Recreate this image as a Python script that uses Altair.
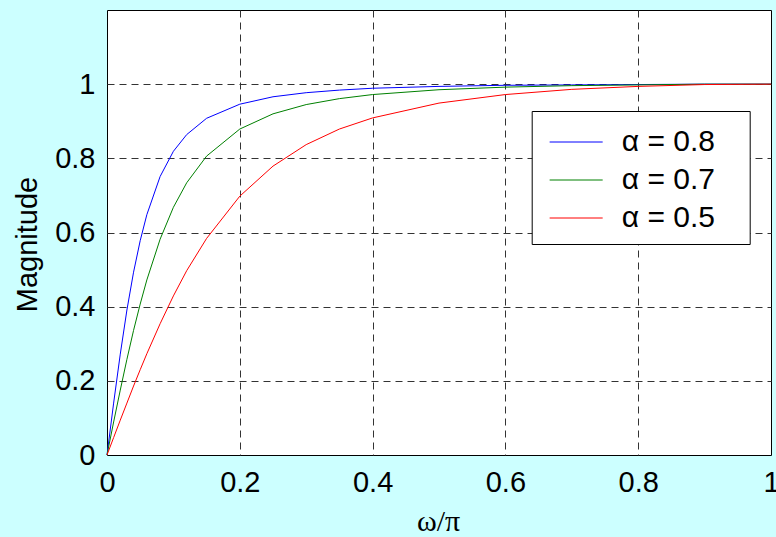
import altair as alt
import pandas as pd

# normalized frequency (omega/pi)
omega = [0, 0.01, 0.02, 0.03, 0.04, 0.05, 0.06, 0.08, 0.10, 0.12, 0.15, 0.20,
         0.25, 0.30, 0.35, 0.40, 0.50, 0.60, 0.70, 0.80, 0.90, 1.00]
# magnitude
mag_08 = [0, 0.140, 0.272, 0.391, 0.493, 0.578, 0.648, 0.751, 0.819, 0.864, 0.908, 0.946,
          0.966, 0.977, 0.984, 0.989, 0.994, 0.997, 0.998, 0.999, 1.000, 1.000]
mag_07 = [0, 0.089, 0.175, 0.258, 0.336, 0.407, 0.472, 0.582, 0.668, 0.734, 0.806, 0.879,
          0.920, 0.945, 0.961, 0.972, 0.985, 0.992, 0.996, 0.998, 1.000, 1.000]
mag_05 = [0, 0.047, 0.094, 0.140, 0.186, 0.230, 0.273, 0.354, 0.429, 0.497, 0.584, 0.698,
          0.779, 0.837, 0.879, 0.909, 0.949, 0.972, 0.986, 0.994, 0.999, 1.000]

series_labels = ["\u03b1 = 0.8", "\u03b1 = 0.7", "\u03b1 = 0.5"]
series_colors = ["#0000FF", "#008000", "#FF0000"]

x_ticks = [0, 0.2, 0.4, 0.6, 0.8, 1.0]
y_ticks = [0, 0.2, 0.4, 0.6, 0.8, 1.0]

rows = []
for label, vals in zip(series_labels, [mag_08, mag_07, mag_05]):
    for w, m in zip(omega, vals):
        rows.append({"w": w, "m": m, "series": label})
df = pd.DataFrame(rows)

grid_x_opacity = {"condition": {"test": "datum.value <= 0 || datum.value >= 1", "value": 0}, "value": 1}
grid_y_opacity = {"condition": {"test": "datum.value <= 0", "value": 0}, "value": 1}

chart = alt.Chart(df).mark_line(strokeWidth=1).encode(
    x=alt.X("w:Q",
            scale=alt.Scale(domain=[0, 1], nice=False, zero=False),
            axis=alt.Axis(values=x_ticks, format=".1~f", title="\u03c9/\u03c0",
                          labelPadding=13, labelFlush=False, labelOverlap=False,
                          gridOpacity=grid_x_opacity,
                          titleFont="Liberation Serif", titleFontSize=30,
                          titleFontWeight="normal", titleX=331, titleY=75,
                          titleBaseline="alphabetic", titleAlign="center")),
    y=alt.Y("m:Q",
            scale=alt.Scale(domain=[0, 1.2], nice=False, zero=False),
            axis=alt.Axis(values=y_ticks, format=".1~f", title="Magnitude",
                          labelPadding=12, labelFlush=False, labelOverlap=False,
                          gridOpacity=grid_y_opacity,
                          titleFont="Liberation Sans", titleFontSize=29,
                          titleFontWeight="normal", titleX=-71, titleY=234,
                          titleAngle=270, titleBaseline="alphabetic", titleAlign="center")),
    color=alt.Color("series:N",
                    scale=alt.Scale(domain=series_labels, range=series_colors),
                    legend=alt.Legend(title="i", titleOrient="right", titleColor="white",
                                      titleFontSize=20, titlePadding=18,
                                      orient="none", legendX=424.7, legendY=101,
                                      direction="vertical",
                                      symbolType="M-0.67,0H2.05", symbolSize=1521,
                                      symbolStrokeWidth=1,
                                      labelFont="Liberation Sans", labelFontSize=30,
                                      labelColor="black", labelOffset=39,
                                      padding=11, rowPadding=3,
                                      strokeColor="black", fillColor="white",
                                      cornerRadius=0)),
).properties(
    width=664, height=445,
    autosize=alt.AutoSizeParams(type="none"),
    padding={"left": 107, "top": 10, "right": 5, "bottom": 82},
    background="#CCFFFF",
).configure_view(
    stroke="black", strokeWidth=1, fill="white"
).configure_axis(
    labelFont="Liberation Sans", labelFontSize=29, labelColor="black",
    ticks=False, tickSize=0, domain=False,
    grid=True, gridColor="#333333", gridDash=[7, 5], gridWidth=1,
    titleColor="black",
)

chart.save("out.html", embed_options={"renderer": "svg", "actions": False})
